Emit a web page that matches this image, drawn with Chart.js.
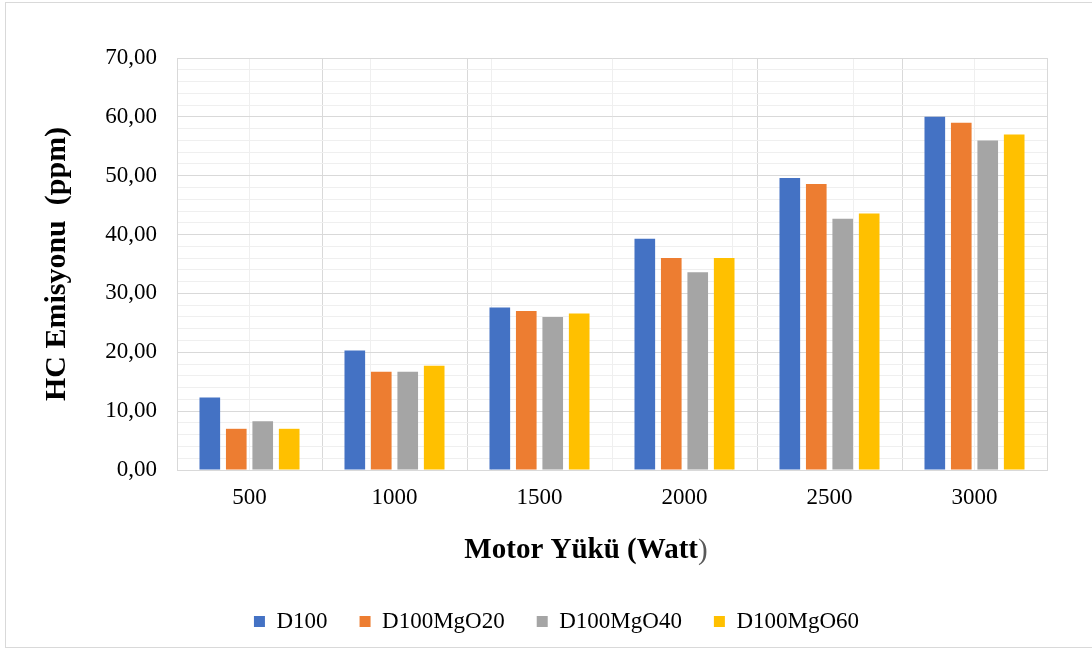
<!DOCTYPE html>
<html>
<head>
<meta charset="utf-8">
<script src="https://cdn.jsdelivr.net/npm/chart.js@4.4.1/dist/chart.umd.min.js"></script>
<style>
  html, body { margin: 0; padding: 0; background: #ffffff; }
  #wrap { position: relative; width: 1092px; height: 649px; }
</style>
</head>
<body>
<div id="wrap"><canvas id="chart" width="1092" height="649"></canvas></div>
<script>
// Engine load (W) on the x axis
const loads = ['500', '1000', '1500', '2000', '2500', '3000'];

// HC emission (ppm) for each fuel blend
const d100      = [12.3, 20.3, 27.6, 39.3, 49.6, 60.0];
const d100MgO20 = [7.0, 16.7, 27.0, 36.0, 48.6, 59.0];
const d100MgO40 = [8.3, 16.7, 26.0, 33.6, 42.7, 56.0];
const d100MgO60 = [7.0, 17.7, 26.6, 36.0, 43.6, 57.0];

const seriesNames = ['D100', 'D100MgO20', 'D100MgO40', 'D100MgO60'];
const seriesColors = ['#4472C4', '#ED7D31', '#A5A5A5', '#FFC000'];

const yMin = 0, yMax = 70, yMinorStep = 2, yMajorStep = 10;

const serif = "'Liberation Serif', 'Times New Roman', serif";
const MAJOR_GRID = '#d9d9d9';
const MINOR_GRID = '#efefef';

// Thin frame around the whole figure
const frame = {
  id: 'frame',
  beforeDraw(chart) {
    const ctx = chart.ctx;
    ctx.save();
    ctx.strokeStyle = '#d9d9d9';
    ctx.lineWidth = 1;
    ctx.strokeRect(5.5, 2.5, chart.width + 10, chart.height - 4);
    ctx.restore();
  }
};

// X axis title: bold label with a regular closing parenthesis
const xTitle = {
  id: 'xTitle',
  afterDraw(chart) {
    const ctx = chart.ctx;
    const area = chart.chartArea;
    const boldPart = 'Motor Yükü (Watt';
    const plainPart = ')';
    const size = 29;
    ctx.save();
    ctx.textBaseline = 'middle';
    ctx.font = "bold " + size + "px " + serif;
    const wBold = ctx.measureText(boldPart).width;
    ctx.font = size + "px " + serif;
    const wPlain = ctx.measureText(plainPart).width;
    const cx = (area.left + area.right) / 2 - 26;
    const x0 = cx - (wBold + wPlain) / 2;
    const y = area.bottom + 81;
    ctx.font = "bold " + size + "px " + serif;
    ctx.fillStyle = '#000000';
    ctx.fillText(boldPart, x0, y);
    ctx.font = size + "px " + serif;
    ctx.fillStyle = '#595959';
    ctx.fillText(plainPart, x0 + wBold, y);
    ctx.restore();
  }
};

const values = [d100, d100MgO20, d100MgO40, d100MgO60];

const LEFT_PAD = 66;
const PLOT_LEFT = 177;

new Chart(document.getElementById('chart'), {
  type: 'bar',
  data: {
    labels: loads,
    datasets: seriesNames.map((name, i) => ({
      label: name,
      data: values[i],
      backgroundColor: seriesColors[i],
      borderWidth: 0,
      categoryPercentage: 0.73,
      barPercentage: 0.78
    }))
  },
  options: {
    responsive: false,
    animation: false,
    devicePixelRatio: 1,
    layout: { padding: { left: LEFT_PAD, right: 45, top: 58, bottom: 6 } },
    plugins: {
      tooltip: { enabled: false },
      legend: {
        position: 'bottom',
        labels: {
          boxWidth: 11,
          boxHeight: 11,
          padding: 32,
          color: '#000000',
          font: { family: serif, size: 23 }
        }
      }
    },
    scales: {
      x: {
        offset: true,
        afterFit(scale) { scale.height = 108; },
        grid: { offset: true, color: MAJOR_GRID, lineWidth: 1, drawTicks: false },
        border: { display: true, color: MAJOR_GRID },
        ticks: { color: '#000000', padding: 14, font: { family: serif, size: 23 } }
      },
      xMinor: {
        type: 'linear',
        position: 'bottom',
        min: 0,
        max: loads.length,
        afterBuildTicks(axis) {
          axis.ticks = loads.map((_, i) => ({ value: i + 0.5 }));
        },
        afterFit(scale) { scale.height = 0; },
        grid: { color: MINOR_GRID, lineWidth: 1, drawTicks: false },
        border: { display: false },
        ticks: { display: false }
      },
      y: {
        min: yMin,
        max: yMax,
        afterFit(scale) { scale.width = PLOT_LEFT - LEFT_PAD; },
        grid: {
          drawTicks: false,
          color: (c) => (c.tick && c.tick.value % yMajorStep === 0) ? MAJOR_GRID : MINOR_GRID
        },
        border: { display: true, color: MAJOR_GRID },
        ticks: {
          stepSize: yMinorStep,
          maxTicksLimit: 100,
          autoSkip: false,
          padding: 20,
          color: '#000000',
          font: { family: serif, size: 23 },
          callback: (v) => (v % yMajorStep === 0) ? v.toFixed(2).replace('.', ',') : ''
        },
        title: {
          display: true,
          text: 'HC Emisyonu  (ppm)',
          color: '#000000',
          padding: { top: -27, bottom: 0 },
          font: { family: serif, size: 30, weight: 'bold' }
        }
      },
      yRight: {
        position: 'right',
        min: yMin,
        max: yMax,
        afterFit(scale) { scale.width = 0; },
        grid: { display: false },
        border: { display: true, color: MAJOR_GRID },
        ticks: { display: false }
      }
    }
  },
  plugins: [frame, xTitle]
});
</script>
</body>
</html>
